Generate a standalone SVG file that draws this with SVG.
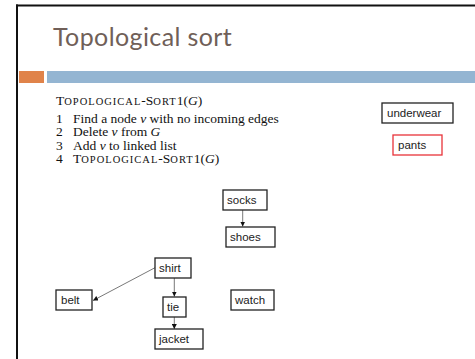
<svg xmlns="http://www.w3.org/2000/svg" width="475" height="359" viewBox="0 0 475 359">
  <style>
    .node rect { fill: #ffffff; stroke: #222222; stroke-width: 1.3; }
    .node text { font-family: "Liberation Sans", Arial, sans-serif; font-size: 11.5px; fill: #222222; }
    #pants rect { stroke: #e8333a; }
    .edge { stroke: #555555; stroke-width: 0.8; fill: none; marker-end: url(#tip); }
    .algo { font-family: "Liberation Serif", "Times New Roman", serif; font-size: 13.5px; fill: #111111; }
    .sc { font-size: 10.5px; letter-spacing: 1px; }
    .it { font-style: italic; }
  </style>
  <defs>
    <marker id="tip" viewBox="0 0 6 6" refX="6" refY="3" markerWidth="5" markerHeight="5" markerUnits="userSpaceOnUse" orient="auto">
      <path d="M0,0 L6,3 L0,6 z" fill="#111111"/>
    </marker>
  </defs>

  <!-- slide frame -->
  <rect x="0" y="0" width="475" height="359" fill="#ffffff"/>
  <line x1="16" y1="5.5" x2="475" y2="5.5" stroke="#111111" stroke-width="2"/>
  <line x1="17" y1="4.5" x2="17" y2="359" stroke="#111111" stroke-width="2"/>

  <!-- title -->
  <text x="53" y="46" font-family="Lato, 'Open Sans', sans-serif" font-size="25" letter-spacing="0.4" fill="#705f58">Topological sort</text>

  <!-- header bars -->
  <rect x="19" y="71" width="25" height="12" fill="#e0834a"/>
  <rect x="47" y="71" width="428" height="12" fill="#94b5d2"/>

  <!-- pseudocode -->
  <g class="algo">
    <text x="56" y="104.5">T<tspan class="sc">OPOLOGICAL</tspan>-S<tspan class="sc">ORT</tspan>1(<tspan class="it">G</tspan>)</text>
    <text x="56" y="122.5">1</text>
    <text x="73" y="122.5">Find a node <tspan class="it">v</tspan> with no incoming edges</text>
    <text x="56" y="136">2</text>
    <text x="73" y="136">Delete <tspan class="it">v</tspan> from <tspan class="it">G</tspan></text>
    <text x="56" y="149.5">3</text>
    <text x="73" y="149.5">Add <tspan class="it">v</tspan> to linked list</text>
    <text x="56" y="163">4</text>
    <text x="73" y="163">T<tspan class="sc">OPOLOGICAL</tspan>-S<tspan class="sc">ORT</tspan>1(<tspan class="it">G</tspan>)</text>
  </g>

  <!-- connectors -->
  <g id="edges">
    <line class="edge" x1="242.7" y1="210" x2="242.7" y2="226.5"/>
    <line class="edge" x1="174.3" y1="277.7" x2="174.3" y2="296.5"/>
    <line class="edge" x1="174.3" y1="316.7" x2="174.3" y2="329"/>
    <line class="edge" x1="155" y1="267.7" x2="93" y2="300.5"/>
  </g>

  <!-- nodes -->
  <g id="underwear" class="node">
    <rect x="382" y="103" width="71" height="20"/>
    <text x="387" y="117">underwear</text>
  </g>
  <g id="pants" class="node">
    <rect x="393" y="135" width="49" height="20"/>
    <text x="398" y="149">pants</text>
  </g>
  <g id="socks" class="node">
    <rect x="223" y="190" width="44" height="20"/>
    <text x="227" y="204">socks</text>
  </g>
  <g id="shoes" class="node">
    <rect x="226" y="227" width="49" height="20"/>
    <text x="230" y="241">shoes</text>
  </g>
  <g id="shirt" class="node">
    <rect x="155" y="258" width="36" height="20"/>
    <text x="159" y="272">shirt</text>
  </g>
  <g id="belt" class="node">
    <rect x="56" y="290" width="36" height="20"/>
    <text x="61" y="304">belt</text>
  </g>
  <g id="tie" class="node">
    <rect x="163" y="297" width="23" height="20"/>
    <text x="167" y="311">tie</text>
  </g>
  <g id="watch" class="node">
    <rect x="231" y="290" width="43" height="20"/>
    <text x="235" y="304">watch</text>
  </g>
  <g id="jacket" class="node">
    <rect x="155" y="329" width="48" height="20"/>
    <text x="159" y="343">jacket</text>
  </g>
</svg>
